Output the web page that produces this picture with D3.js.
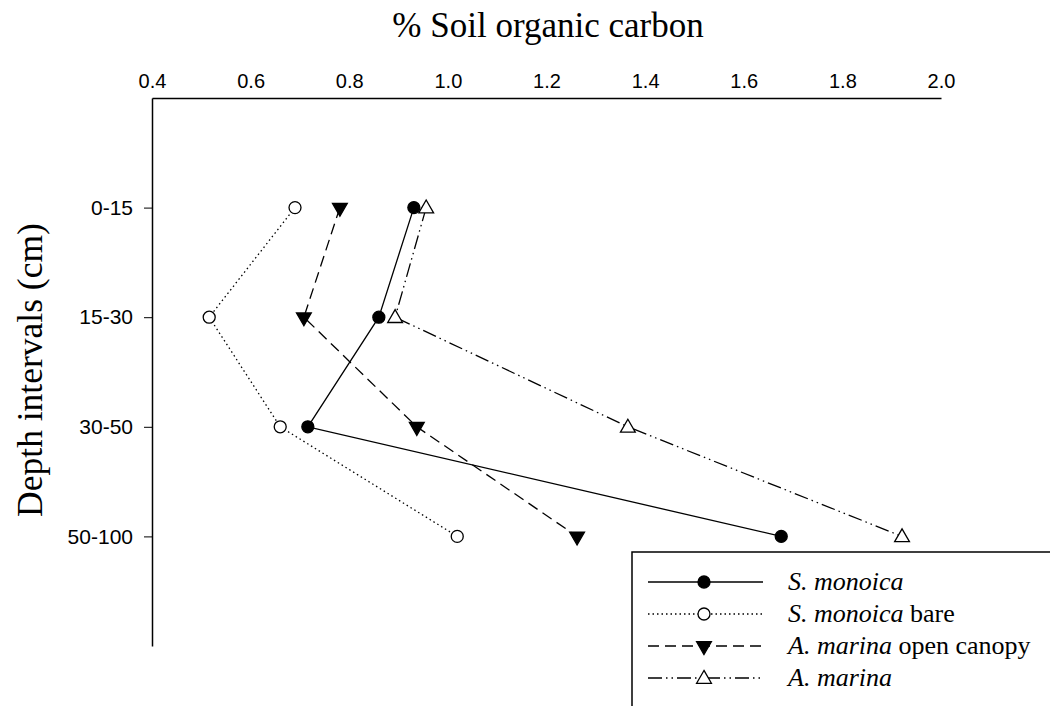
<!DOCTYPE html>
<html>
<head>
<meta charset="utf-8">
<script src="https://cdn.jsdelivr.net/npm/d3@7"></script>
<style>
  body { margin: 0; background: #fff; }
  svg { display: block; }
</style>
</head>
<body>
<div id="chart"></div>
<script>
// Depth categories and series values (% SOC)
const depths = ["0-15", "15-30", "30-50", "50-100"];
const sMonoica = [0.931, 0.860, 0.716, 1.676];
const sMonoicaBare = [0.690, 0.516, 0.660, 1.019];
const aMarinaOpen = [0.781, 0.708, 0.937, 1.262];
const aMarina = [0.956, 0.893, 1.365, 1.921];
const xTicks = [0.4, 0.6, 0.8, 1.0, 1.2, 1.4, 1.6, 1.8, 2.0];

const series = [
  { name: "S. monoica", italic: "S. monoica", rest: "", values: sMonoica, dash: null, marker: "circle", fill: "#000" },
  { name: "S. monoica bare", italic: "S. monoica", rest: " bare", values: sMonoicaBare, dash: "1.5,3", marker: "circle", fill: "#fff" },
  { name: "A. marina open canopy", italic: "A. marina", rest: " open canopy", values: aMarinaOpen, dash: "11,6", marker: "down", fill: "#000" },
  { name: "A. marina", italic: "A. marina", rest: "", values: aMarina, dash: "14,4,1.5,4,1.5,4", marker: "up", fill: "#fff" }
];

const width = 1050, height = 706;
const plotLeft = 152, plotRight = 941, plotTop = 98, plotBottom = 646;
const sans = "Liberation Sans, Arial, sans-serif";
const serif = "Liberation Serif, Times New Roman, serif";

const svg = d3.select("#chart").append("svg")
  .attr("width", width).attr("height", height);

const x = d3.scaleLinear().domain([0.4, 2.0]).range([plotLeft, plotRight]);
const y = d3.scaleLinear().domain([0, 5]).range([plotTop, plotBottom]);

// top axis (line + labels, no tick marks)
const xAxis = d3.axisTop(x).tickValues(xTicks).tickFormat(d3.format(".1f"))
  .tickSizeInner(0).tickSizeOuter(0).tickPadding(10);
const gx = svg.append("g").attr("transform", `translate(0,${plotTop})`).call(xAxis);
gx.attr("font-size", null).attr("font-family", null);
gx.select(".domain").attr("stroke", "#000").attr("stroke-width", 1.5);
gx.selectAll("text").style("font-family", sans).style("font-size", "20px").attr("fill", "#000");

// left axis with category ticks
const yAxis = d3.axisLeft(y).tickValues([1, 2, 3, 4]).tickFormat(d => depths[d - 1])
  .tickSizeInner(8).tickSizeOuter(0).tickPadding(11);
const gy = svg.append("g").attr("transform", `translate(${plotLeft},0)`).call(yAxis);
gy.attr("font-size", null).attr("font-family", null);
gy.select(".domain").attr("stroke", "#000").attr("stroke-width", 1.5);
gy.selectAll(".tick line").attr("stroke", "#000").attr("stroke-width", 1);
gy.selectAll("text").style("font-family", sans).style("font-size", "21px").attr("fill", "#000");

// titles
svg.append("text").attr("x", 548).attr("y", 37).attr("text-anchor", "middle")
  .style("font-family", serif).style("font-size", "35px")
  .text("% Soil organic carbon");
svg.append("text").attr("transform", "translate(42,370) rotate(-90)").attr("text-anchor", "middle")
  .style("font-family", serif).style("font-size", "35.5px")
  .text("Depth intervals (cm)");

const line = d3.line().x(d => x(d.v)).y(d => y(d.i + 1));

function drawMarker(g, s, cx, cy) {
  if (s.marker === "circle") {
    g.append("circle").attr("cx", cx).attr("cy", cy).attr("r", 6)
      .attr("fill", s.fill).attr("stroke", "#000").attr("stroke-width", 1.3);
  } else {
    const sym = d3.symbol().type(d3.symbolTriangle).size(95);
    g.append("path").attr("d", sym)
      .attr("transform", `translate(${cx},${cy + (s.marker === "down" ? 0 : 1)}) rotate(${s.marker === "down" ? 180 : 0})`)
      .attr("fill", s.fill).attr("stroke", "#000").attr("stroke-width", 1.3);
  }
}

series.forEach(s => {
  const pts = s.values.map((v, i) => ({ v, i }));
  svg.append("path").datum(pts).attr("d", line)
    .attr("fill", "none").attr("stroke", "#000").attr("stroke-width", 1.3)
    .attr("stroke-dasharray", s.dash);
  const g = svg.append("g");
  pts.forEach(p => drawMarker(g, s, x(p.v), y(p.i + 1)));
});

// legend (box runs off the page edge)
const lg = svg.append("g");
lg.append("rect").attr("x", 632).attr("y", 552).attr("width", 500).attr("height", 300)
  .attr("fill", "#fff").attr("stroke", "#000").attr("stroke-width", 1.5);
series.forEach((s, i) => {
  const ly = 582 + i * 32;
  lg.append("line").attr("x1", 648).attr("x2", 763).attr("y1", ly).attr("y2", ly)
    .attr("stroke", "#000").attr("stroke-width", 1.3).attr("stroke-dasharray", s.dash);
  drawMarker(lg, s, 704, ly);
  const t = lg.append("text").attr("x", 788).attr("y", ly + 8)
    .style("font-family", serif).style("font-size", "26px");
  t.append("tspan").attr("font-style", "italic").text(s.italic);
  if (s.rest) t.append("tspan").text(s.rest);
});
</script>
</body>
</html>
